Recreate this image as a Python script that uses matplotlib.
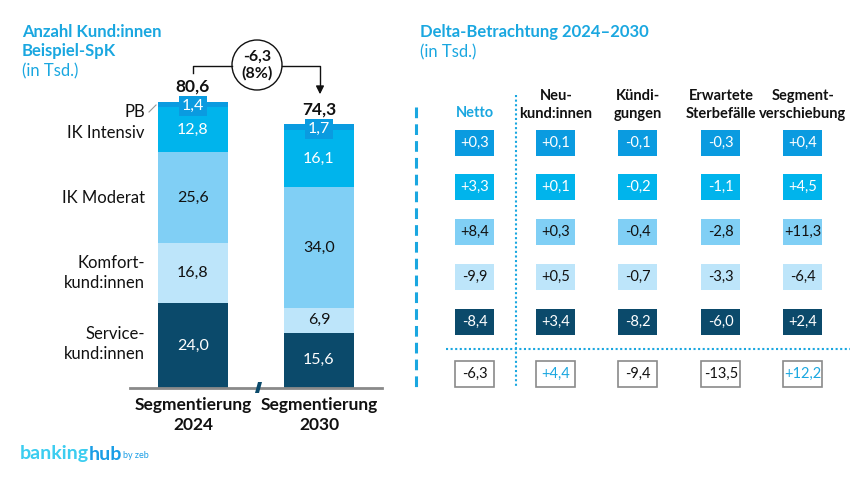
import numpy as np
import matplotlib
matplotlib.use("Agg")
import matplotlib.pyplot as plt
from matplotlib.patches import Rectangle, Circle, Polygon

plt.rcParams['font.family'] = ['Lato', 'DejaVu Sans']

# data
segments = ["PB", "IK Intensiv", "IK Moderat", "Komfort-\nkund:innen", "Service-\nkund:innen"]
years = ["Segmentierung\n2024", "Segmentierung\n2030"]
# bottom -> top: Service, Komfort, IK Moderat, IK Intensiv, PB
vals_2024 = [24.0, 16.8, 25.6, 12.8, 1.4]
vals_2030 = [15.6, 6.9, 34.0, 16.1, 1.7]
totals = [80.6, 74.3]
delta_label = "-6,3\n(8%)"

delta_cols = ["Netto", "Neu-\nkund:innen", "Kündi-\ngungen", "Erwartete\nSterbefälle", "Segment-\nverschiebung"]
# rows top -> bottom: PB, IK Intensiv, IK Moderat, Komfort, Service
netto = [0.3, 3.3, 8.4, -9.9, -8.4]
neukunden = [0.1, 0.1, 0.3, 0.5, 3.4]
kuendigungen = [-0.1, -0.2, -0.4, -0.7, -8.2]
sterbefaelle = [-0.3, -1.1, -2.8, -3.3, -6.0]
verschiebung = [0.4, 4.5, 11.3, -6.4, 2.4]
delta_totals = [-6.3, 4.4, -9.4, -13.5, 12.2]

# colours bottom -> top
seg_colors = ["#0b4a6b", "#bde5fa", "#80cff5", "#00b4ec", "#0a9be0"]
seg_text = ["white", "#111111", "#111111", "white", "white"]
BLUE = "#1aa7e0"
INK = "#111111"


def fmt(v, sign=False):
    s = f"{v:+.1f}" if sign else f"{v:.1f}"
    return s.replace(".", ",")


W, H = 862, 478
fig = plt.figure(figsize=(W / 100, H / 100), dpi=100)

# bar axes in pixel layout: x 130..382, baseline at y=388, 3.55 px per unit
px = 3.55
ax = fig.add_axes([130 / W, (H - 388) / H, 252 / W, 368 / H])
ax.set_xlim(-0.5, 1.5)
ax.set_ylim(0, 368 / px)
ax.axis("off")

bw = 70 / 126
for i, vals in enumerate([vals_2024, vals_2030]):
    bottom = 0
    for k, v in enumerate(vals):
        ax.bar(i, v, bottom=bottom, width=bw, color=seg_colors[k], edgecolor="none")
        if k < 4:
            ax.text(i, bottom + v / 2, fmt(v), ha="center", va="center",
                    fontsize=11.5, color=seg_text[k])
        else:
            ax.text(i, bottom + v / 2 - 0.5, fmt(v), ha="center", va="center",
                    fontsize=11.5, color="white",
                    bbox=dict(boxstyle="square,pad=0.2", fc=seg_colors[4], ec="none"))
        bottom += v
    ax.text(i, totals[i] + 4.2, fmt(totals[i]), ha="center", va="center",
            fontsize=12.5, fontweight="bold", color=INK)
    ax.text(i, -2.6, years[i], ha="center", va="top", fontsize=12.5,
            fontweight="bold", color=INK, linespacing=1.3)

# baseline
ax.plot([-0.5, 1.5], [0, 0], color="#8a8a8a", lw=2, clip_on=False)

# overlay axes in pixel coords for text and table
ov = fig.add_axes([0, 0, 1, 1], zorder=5)
ov.set_xlim(0, W)
ov.set_ylim(H, 0)
ov.axis("off")

# break marker
ov.add_patch(Polygon([[255, 393], [259, 393], [262, 382], [258, 382]], closed=True,
                     fc="#0b4a6b", ec="none"))

# titles
ov.text(22, 32, "Anzahl Kund:innen", color=BLUE, fontsize=12, fontweight="bold", va="center")
ov.text(22, 51, "Beispiel-SpK", color=BLUE, fontsize=12, fontweight="bold", va="center")
ov.text(22, 71, "(in Tsd.)", color=BLUE, fontsize=12, va="center")
ov.text(420, 32, "Delta-Betrachtung 2024–2030", color=BLUE, fontsize=12,
        fontweight="bold", va="center")
ov.text(420, 52, "(in Tsd.)", color=BLUE, fontsize=12, va="center")

# segment labels
label_y = [112, 133, 198, 273, 344]
for lab, y in zip(segments, label_y):
    ov.text(145, y, lab, ha="right", va="center", fontsize=12, color=INK,
            linespacing=1.35)
ov.plot([149, 156], [112, 105], color="#999999", lw=0.8)

# delta bracket with circle
cx, cy, r = 257, 65, 25
ov.plot([193, 193, cx - r], [73, 66, 66], color=INK, lw=1)
ov.plot([cx + r, 320, 320], [66, 66, 90], color=INK, lw=1)
ov.annotate("", xy=(320, 97), xytext=(320, 88),
            arrowprops=dict(arrowstyle="-|>", color=INK, lw=1, mutation_scale=12))
ov.add_patch(Circle((cx, cy), r, fc="white", ec=INK, lw=1))
ov.text(cx, cy, delta_label, ha="center", va="center", fontsize=11.5,
        fontweight="bold", color=INK, linespacing=1.25)

# table
col_x = [475, 556, 638, 721, 803]
row_y = [143, 187, 232, 277, 322]
tot_y = 374
cell_colors = ["#0a9be0", "#00b4ec", "#80cff5", "#bde5fa", "#0b4a6b"]
cell_text = ["white", "white", INK, INK, "white"]
cols = [netto, neukunden, kuendigungen, sterbefaelle, verschiebung]
cw, ch = 39, 26

for j, name in enumerate(delta_cols):
    if j == 0:
        ov.text(col_x[j], 113, name, ha="center", va="center", fontsize=10.5,
                fontweight="bold", color=BLUE)
    else:
        ov.text(col_x[j], 105, name, ha="center", va="center", fontsize=10.5,
                fontweight="bold", color=INK, linespacing=1.3)
    for i, v in enumerate(cols[j]):
        ov.add_patch(Rectangle((col_x[j] - cw / 2, row_y[i] - ch / 2), cw, ch,
                               fc=cell_colors[i], ec="none"))
        ov.text(col_x[j], row_y[i], fmt(v, True), ha="center", va="center",
                fontsize=10.5, color=cell_text[i])
    t = delta_totals[j]
    ov.add_patch(Rectangle((col_x[j] - cw / 2, tot_y - ch / 2), cw, ch,
                           fc="white", ec="#8a8a8a", lw=1.2))
    ov.text(col_x[j], tot_y, fmt(t, True) if t > 0 else fmt(t), ha="center",
            va="center", fontsize=10.5, color=BLUE if t > 0 else INK)

# table lines
ov.plot([416, 416], [107, 388], color=BLUE, lw=2.2, dashes=(3.5, 2))
ov.plot([516, 516], [95, 386], color=BLUE, lw=1.5, linestyle=(0, (1, 1.2)))
ov.plot([446, 850], [349, 349], color=BLUE, lw=1.5, linestyle=(0, (1, 1.2)))

# logo
t1 = ov.text(20, 454, "banking", color="#3ccdf0", fontsize=14, va="center",
             fontweight="bold")
fig.canvas.draw()
bb = t1.get_window_extent()
x_hub = 20 + bb.width
ov.text(x_hub, 454, "hub", color="#1a9ee6", fontsize=14, va="center",
        fontweight="bold")
ov.text(123, 456, "by zeb", color="#1a9ee6", fontsize=6.5, va="center")

fig.savefig("out.png", dpi=100, facecolor="white")
